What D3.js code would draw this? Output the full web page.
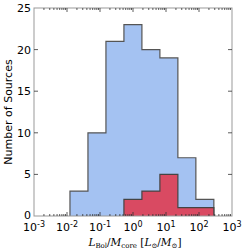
<!DOCTYPE html>
<html><head><meta charset="utf-8">
<script src="https://cdn.jsdelivr.net/npm/d3@7"></script>
<style>body{margin:0;background:#fff}svg{display:block}</style>
</head><body>
<script>
const binEdgesLog = [-1.91,-1.365,-0.82,-0.275,0.27,0.815,1.36,1.905,2.45];
const allCounts = [3,10,21,23,20,19,7,2];
const subCounts = [0,0,0,2,3,5,1,1];
const xTickExps = [-3,-2,-1,0,1,2,3];
const yTicks = [0,5,10,15,20,25];

const W=249,H=252, L=34, R=232, T=8, B=216;
const svg=d3.select("body").append("svg").attr("width",W).attr("height",H);
const x=d3.scaleLog().domain([1e-3,1e3]).range([L,R]);
const y=d3.scaleLinear().domain([0,25]).range([B,T]);

function stepPath(counts){
  let p="";
  let started=false;
  counts.forEach((c,i)=>{
    if(c<=0) return;
    const x0=x(Math.pow(10,binEdgesLog[i])), x1=x(Math.pow(10,binEdgesLog[i+1]));
    if(!started){p+=`M${x0},${y(0)}L${x0},${y(c)}`;started=true;}
    else p+=`L${x0},${y(c)}`;
    p+=`L${x1},${y(c)}`;
    if(i===counts.length-1||counts[i+1]<=0) p+=`L${x1},${y(0)}`;
  });
  return p;
}
svg.append("path").attr("d",stepPath(allCounts)).attr("fill","#a4c2f2").attr("stroke","#555").attr("stroke-width",1.2);
svg.append("path").attr("d",stepPath(subCounts)).attr("fill","#d94a62").attr("stroke","#444").attr("stroke-width",1.2);

const frame=svg.append("g").attr("stroke","#999").attr("fill","none").attr("stroke-width",1);
frame.append("rect").attr("x",L).attr("y",T).attr("width",R-L).attr("height",B-T);

const tg=svg.append("g").attr("stroke","#333").attr("stroke-width",0.8);
for(let e=-3;e<3;e++){
  for(let m=1;m<10;m++){
    const v=m*Math.pow(10,e); const px=x(v); const len=(m===1)?4:2;
    if(m===1 && e===-3) continue;
    tg.append("line").attr("x1",px).attr("x2",px).attr("y1",B).attr("y2",B-len);
    tg.append("line").attr("x1",px).attr("x2",px).attr("y1",T).attr("y2",T+len);
  }
}
yTicks.forEach(v=>{
  if(v===0||v===25) return;
  tg.append("line").attr("x1",L).attr("x2",L+4).attr("y1",y(v)).attr("y2",y(v));
  tg.append("line").attr("x1",R).attr("x2",R-4).attr("y1",y(v)).attr("y2",y(v));
});

svg.append("g").selectAll("text").data(yTicks).join("text")
  .attr("x",L-3).attr("y",d=>y(d)+(d===0?3:4)).attr("text-anchor","end")
  .attr("font-family","DejaVu Sans").attr("font-size",11).attr("fill","#000").text(d=>d);

const xl=svg.append("g").selectAll("text").data(xTickExps).join("text")
  .attr("x",d=>x(Math.pow(10,d))).attr("y",B+15).attr("text-anchor","middle")
  .attr("font-family","DejaVu Sans").attr("font-size",11).attr("fill","#000");
xl.append("tspan").text("10");
xl.append("tspan").attr("dy",-4).attr("font-size",8).text(d=>d<0?"-"+(-d):d);

svg.append("text").attr("transform",`translate(12,${(T+B)/2}) rotate(-90)`).attr("text-anchor","middle")
  .attr("font-family","DejaVu Sans").attr("font-size",11).text("Number of Sources");

const xt=svg.append("text").attr("x",(L+R)/2+2).attr("y",H-6).attr("text-anchor","middle")
  .attr("font-family","DejaVu Serif").attr("font-size",10.5);
xt.append("tspan").attr("font-style","italic").text("L");
xt.append("tspan").attr("font-size",7).attr("dy",2).text("Bol");
xt.append("tspan").attr("dy",-2).text("/");
xt.append("tspan").attr("font-style","italic").text("M");
xt.append("tspan").attr("font-size",7).attr("dy",2).text("core");
xt.append("tspan").attr("dy",-2).text(" [");
xt.append("tspan").attr("font-style","italic").text("L");
xt.append("tspan").attr("font-size",7).attr("dy",2).text("⊙");
xt.append("tspan").attr("dy",-2).text("/");
xt.append("tspan").attr("font-style","italic").text("M");
xt.append("tspan").attr("font-size",7).attr("dy",2).text("⊙");
xt.append("tspan").attr("dy",-2).text("]");
</script>
</body></html>
